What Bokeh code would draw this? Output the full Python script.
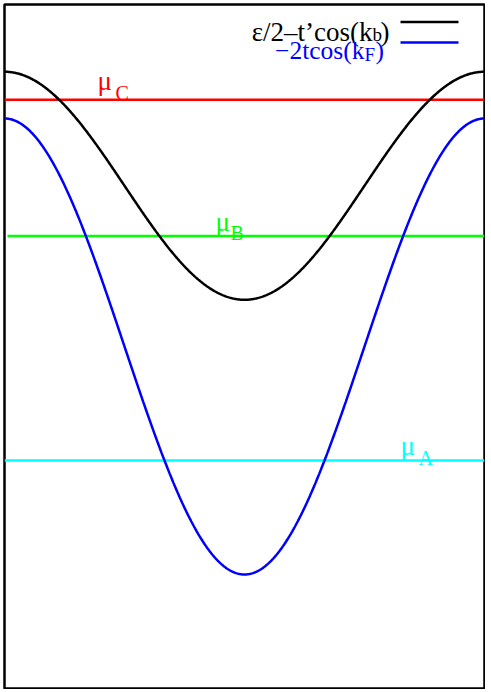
import numpy as np
from bokeh.plotting import figure
from bokeh.models import Label, Range1d
from bokeh.embed import file_html
from bokeh.resources import INLINE

# ---- data ----
eps_half = 1.41      # epsilon/2
t_prime = 1.0        # t'
t_hop = 1.0          # t
mu_names = ["A", "B", "C"]
mu_values = [-1.0, 0.97, 2.165]
mu_colors = ["#00ffff", "#00ff00", "#ff0000"]
k = np.linspace(-np.pi, np.pi, 600)
band_b = eps_half - t_prime * np.cos(k)
band_f = -2.0 * t_hop * np.cos(k)

# ---- geometry helpers (pixel -> data) ----
X0, X1, Y0, Y1 = 4.0, 484.0, 4.0, 688.0
XMIN, XMAX, YMIN, YMAX = -np.pi, np.pi, -3.0, 3.0


def dx(px):
    return XMIN + (px - X0) / (X1 - X0) * (XMAX - XMIN)


def dy(py):
    return YMAX - (py - Y0) / (Y1 - Y0) * (YMAX - YMIN)


p = figure(width=482, height=686, output_backend="svg", toolbar_location=None,
           x_range=Range1d(XMIN, XMAX), y_range=Range1d(YMIN, YMAX),
           min_border=1, margin=(3, -6, -6, 3))
p.axis.visible = False
p.grid.visible = False
p.background_fill_color = "white"
p.border_fill_color = "white"
p.outline_line_color = "black"
p.outline_line_width = 2.5
p.outline_line_alpha = 1.0

FONT = "Liberation Serif"

# horizontal chemical potential lines
line_starts = [XMIN, dx(7), XMIN]
for name, mu, col, xs in zip(mu_names, mu_values, mu_colors, line_starts):
    p.line([xs, XMAX], [mu, mu], line_color=col, line_width=2.5)

# bands
p.line(k, band_b, line_color="black", line_width=2.5)
p.line(k, band_f, line_color="#0000ff", line_width=2.5)


def lab(px, py, text, color, size, align="left"):
    p.add_layout(Label(x=dx(px), y=dy(py), text=text, text_color=color,
                       text_font=FONT, text_font_size=f"{size}px",
                       text_baseline="alphabetic", text_align=align))


# mu labels (pixel positions of mu glyph / subscript)
mu_lab_pos = {"C": (97, 80, 115, 92), "B": (215, 221, 230, 232), "A": (400, 445, 418, 457)}
for name, col in zip(mu_names, mu_colors):
    mx, my, sx, sy = mu_lab_pos[name]
    lab(mx, my, "μ", col, 27)
    lab(sx, sy, name, col, 20)

# legend
lab(372, 31, "ε/2–t’cos(k", "black", 27, "right")
lab(372, 34, "b", "black", 19)
lab(380, 31, ")", "black", 27)
p.line([dx(400), dx(458)], [dy(21.5), dy(21.5)], line_color="black", line_width=2.5)

lab(364, 50, "−2tcos(k", "#0000ff", 25.5, "right")
lab(364, 54, "F", "#0000ff", 19)
lab(375, 50, ")", "#0000ff", 25.5)
p.line([dx(400), dx(458)], [dy(42), dy(42)], line_color="#0000ff", line_width=2.5)

open("out.html", "w").write(file_html(p, INLINE))
